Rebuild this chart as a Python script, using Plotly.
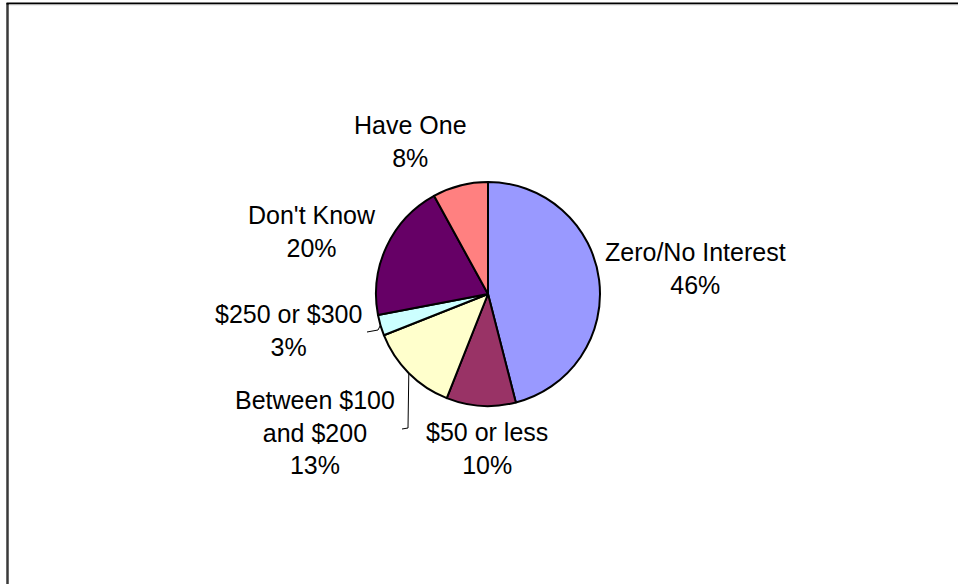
import math
import plotly.graph_objects as go

# Survey answers, clockwise from 12 o'clock
categories = ["Zero/No Interest", "$50 or less", "Between $100<br>and $200",
              "$250 or $300", "Don't Know", "Have One"]
shares = [46, 10, 13, 3, 20, 8]
colors = ["#9999FF", "#993366", "#FFFFCC", "#CCFFFF", "#660066", "#FF8080"]

W, H = 958, 584
CX, CY, R = 488, 294, 112  # pie centre and radius in pixels

# label block centres (pixels)
label_pos = [(695, 268), (487, 448), (315, 432), (288, 330), (312, 231), (410, 142)]
# leader-line elbows for the labels that sit away from their slices
leaders = {2: [(408, 428), (402, 429)], 3: [(378, 330), (367, 332)]}


def px(x):
    return x / W


def py(y):
    return 1 - y / H


fig = go.Figure(go.Pie(
    labels=categories,
    values=shares,
    sort=False,
    direction="clockwise",
    rotation=0,
    textinfo="none",
    hoverinfo="label+percent",
    marker=dict(colors=colors, line=dict(color="black", width=2)),
    domain=dict(x=[px(CX - R), px(CX + R)], y=[py(CY + R), py(CY - R)]),
    showlegend=False,
))

total = sum(shares)
annotations = []
shapes = []
cum = 0
for i, (lab, v) in enumerate(zip(categories, shares)):
    pct = round(100 * v / total)
    x, y = label_pos[i]
    annotations.append(dict(
        x=px(x), y=py(y), xref="paper", yref="paper",
        text=f"{lab}<br>{pct}%", showarrow=False,
        xanchor="center", yanchor="middle", align="center",
        font=dict(family="Liberation Sans, Arial, sans-serif", size=25, color="black"),
    ))
    mid = (cum + v / 2) / total * 2 * math.pi
    cum += v
    if i in leaders:
        pts = [(CX + R * math.sin(mid), CY - R * math.cos(mid))] + leaders[i]
        path = "M " + " L ".join(f"{px(a)},{py(b)}" for a, b in pts)
        shapes.append(dict(type="path", xref="paper", yref="paper", path=path,
                           line=dict(color="black", width=1)))

# chart area frame (left and top edges are inside the page)
shapes += [
    dict(type="line", xref="paper", yref="paper", x0=px(7.5), x1=px(7.5), y0=-0.05, y1=py(3),
         line=dict(color="#3a3a3a", width=2.5)),
    dict(type="line", xref="paper", yref="paper", x0=px(6.5), x1=1.05, y0=py(3.5), y1=py(3.5),
         line=dict(color="black", width=2)),
    dict(type="line", xref="paper", yref="paper", x0=px(9), x1=1.05, y0=py(5), y1=py(5),
         line=dict(color="#dddddd", width=1)),
]

fig.update_layout(
    width=W, height=H,
    margin=dict(l=0, r=0, t=0, b=0),
    paper_bgcolor="white", plot_bgcolor="white",
    annotations=annotations, shapes=shapes,
)

fig.write_html("out.html")
